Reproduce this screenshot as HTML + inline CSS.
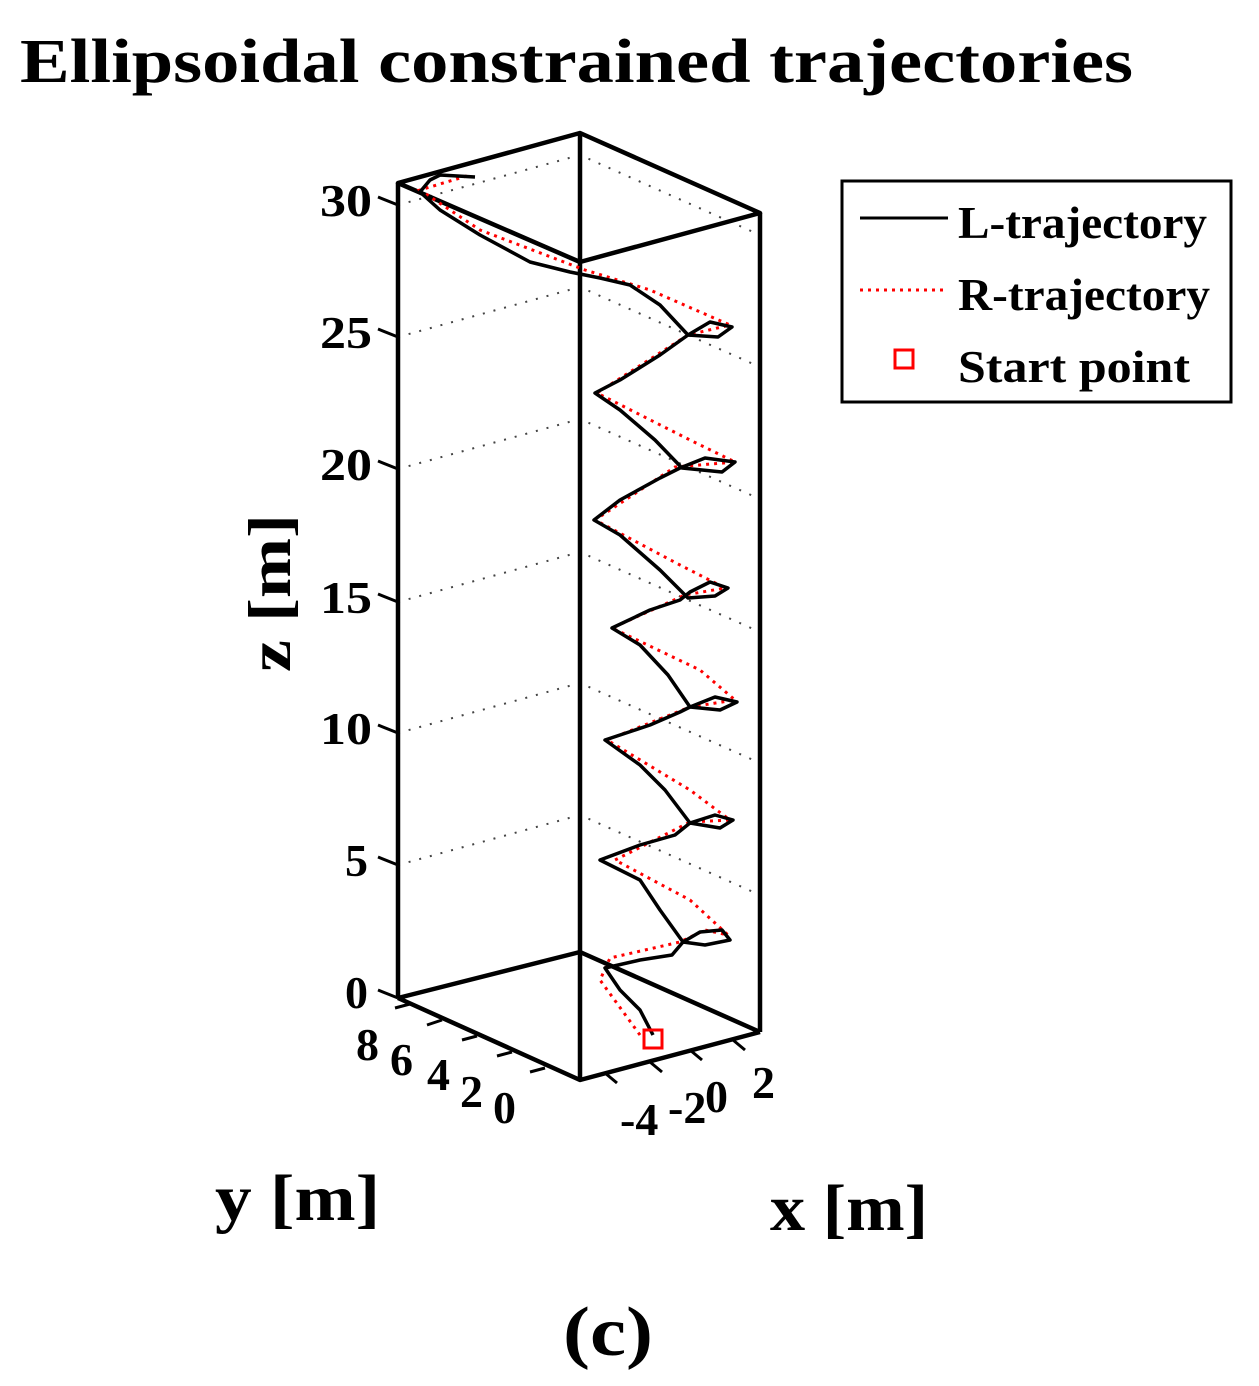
<!DOCTYPE html>
<html><head><meta charset="utf-8"><style>
html,body{margin:0;padding:0;background:#fff;}
svg{display:block;}
text{font-family:"Liberation Serif",serif;font-weight:bold;fill:#000;}
</style></head><body>
<svg width="1259" height="1386" viewBox="0 0 1259 1386" xmlns="http://www.w3.org/2000/svg">
<text x="20" y="82" font-size="62" textLength="1113" lengthAdjust="spacingAndGlyphs">Ellipsoidal constrained trajectories</text>
<g stroke="#444" stroke-width="2" stroke-dasharray="2,9" fill="none">
<polyline points="398,205 580,155 760,235"/>
<polyline points="398,337 580,287 760,367"/>
<polyline points="398,469 580,419 760,499"/>
<polyline points="398,602 580,552 760,632"/>
<polyline points="398,733 580,683 760,763"/>
<polyline points="398,865 580,815 760,895"/>
</g>
<g stroke="#000" stroke-width="4.5" fill="none" stroke-linejoin="round">
<polygon points="398,183 580,133 760,213 580,262"/>
<polyline points="398,998 580,952 760,1032"/>
<polyline points="398,998 580,1080 760,1032"/>
<line x1="398" y1="183" x2="398" y2="998"/>
<line x1="580" y1="133" x2="580" y2="1080"/>
<line x1="760" y1="213" x2="760" y2="1032"/>
</g>
<g stroke="#000" stroke-width="3">
<line x1="378" y1="197" x2="398" y2="205"/>
<line x1="378" y1="329" x2="398" y2="337"/>
<line x1="378" y1="461" x2="398" y2="469"/>
<line x1="378" y1="594" x2="398" y2="602"/>
<line x1="378" y1="725" x2="398" y2="733"/>
<line x1="378" y1="857" x2="398" y2="865"/>
<line x1="378" y1="990" x2="398" y2="998"/>
<line x1="395" y1="1008" x2="410" y2="1004"/>
<line x1="427" y1="1025" x2="442" y2="1020"/>
<line x1="462" y1="1040" x2="477" y2="1036"/>
<line x1="497" y1="1056" x2="512" y2="1052"/>
<line x1="530" y1="1072" x2="545" y2="1068"/>
<line x1="605" y1="1073" x2="617" y2="1083"/>
<line x1="650" y1="1062" x2="662" y2="1072"/>
<line x1="690" y1="1050" x2="702" y2="1060"/>
<line x1="733" y1="1040" x2="745" y2="1050"/>
</g>
<g font-size="46">
<text x="320" y="216" textLength="52" lengthAdjust="spacingAndGlyphs">30</text><text x="320" y="348" textLength="52" lengthAdjust="spacingAndGlyphs">25</text><text x="320" y="480" textLength="52" lengthAdjust="spacingAndGlyphs">20</text>
<text x="320" y="613" textLength="52" lengthAdjust="spacingAndGlyphs">15</text><text x="320" y="744" textLength="52" lengthAdjust="spacingAndGlyphs">10</text><text x="345" y="876">5</text><text x="345" y="1008">0</text>
<text x="356" y="1060">8</text><text x="390" y="1075">6</text><text x="427" y="1090">4</text><text x="460" y="1107">2</text><text x="493" y="1123">0</text>
<text x="620" y="1135">-4</text><text x="668" y="1123">-2</text><text x="705" y="1112">0</text><text x="752" y="1098">2</text>
</g>
<text font-size="60" transform="translate(290,672) rotate(-90)" textLength="158" lengthAdjust="spacingAndGlyphs">z [m]</text>
<text x="215" y="1220" font-size="66" textLength="165" lengthAdjust="spacingAndGlyphs">y [m]</text>
<text x="770" y="1230" font-size="66" textLength="158" lengthAdjust="spacingAndGlyphs">x [m]</text>
<text x="563" y="1355" font-size="70" textLength="90" lengthAdjust="spacingAndGlyphs">(c)</text>
<polyline fill="none" stroke="#f00" stroke-width="3" stroke-dasharray="3,5" points="640,1035 600,980 610,958 680,942 705,930 728,935 690,900 615,860 690,822 730,820 690,790 607,740 690,707 735,700 700,670 612,628 685,595 725,588 680,565 595,520 675,467 735,462 690,440 597,393 688,335 730,325 650,290 585,270 480,230 420,190 470,175"/>
<polyline fill="none" stroke="#000" stroke-width="3.5" stroke-linejoin="round" points="653,1035 640,1010 620,990 605,968 640,960 672,955 683,942 700,932 722,930 730,940 705,945 683,942 660,910 640,880 600,860 640,845 675,835 690,823 715,815 733,820 720,828 690,823 665,790 640,765 605,740 650,725 680,712 690,707 715,697 737,702 720,710 690,707 668,675 640,645 612,628 650,610 680,600 690,592 710,582 728,588 715,596 688,598 660,570 620,535 594,520 620,500 660,478 680,468 705,458 735,462 722,472 682,468 655,440 620,410 595,393 620,380 660,355 688,335 710,322 732,327 718,337 688,335 660,305 630,285 600,278 570,272 530,262 480,235 440,210 420,192 430,180 440,175 475,177"/>
<rect x="644" y="1030" width="18" height="18" fill="none" stroke="#f00" stroke-width="3"/>
<rect x="842" y="181" width="389" height="221" fill="#fff" stroke="#000" stroke-width="3"/>
<line x1="860" y1="218" x2="948" y2="218" stroke="#000" stroke-width="3"/>
<line x1="860" y1="290" x2="948" y2="290" stroke="#f00" stroke-width="3" stroke-dasharray="3,5"/>
<rect x="895" y="350" width="18" height="18" fill="none" stroke="#f00" stroke-width="3"/>
<g font-size="46">
<text x="958" y="238" textLength="249" lengthAdjust="spacingAndGlyphs">L-trajectory</text>
<text x="958" y="310" textLength="252" lengthAdjust="spacingAndGlyphs">R-trajectory</text>
<text x="958" y="382" textLength="232" lengthAdjust="spacingAndGlyphs">Start point</text>
</g>
</svg>
</body></html>
